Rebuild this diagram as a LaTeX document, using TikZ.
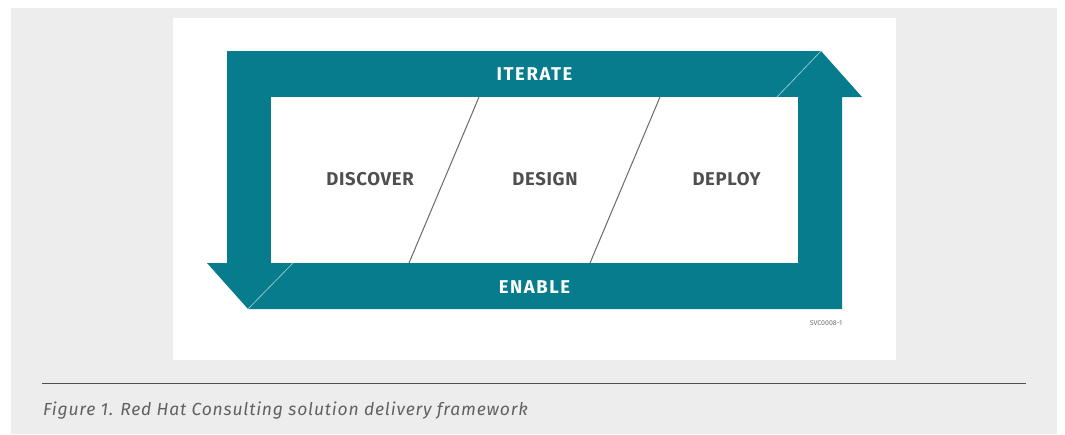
\documentclass[tikz,border=0pt]{standalone}
\usepackage{fontspec}
\setmainfont{Fira Sans}
\definecolor{teal1}{HTML}{067C8C}
\definecolor{panel}{HTML}{EDEDED}
\definecolor{ink}{HTML}{4F4F4F}
\tikzset{
  band/.style={fill=teal1,draw=none},
  seam/.style={draw=white!55!teal1,line width=0.8pt},
  divider/.style={draw=ink!85,line width=1pt},
  phase/.style={text=ink,font=\fontsize{18.5}{20}\selectfont\bfseries\addfontfeature{LetterSpace=3.6},inner sep=0pt,anchor=center},
  bandlabel/.style={text=white,font=\fontsize{18.5}{20}\selectfont\bfseries\addfontfeature{LetterSpace=8.5},inner sep=0pt,anchor=center},
}
\begin{document}
\begin{tikzpicture}[x=1pt,y=-1pt]
\useasboundingbox (0,0) rectangle (1065,434);
\fill[white] (0,0) rectangle (1065,434);
\fill[panel] (11,8) rectangle (1057,434);
\fill[white] (173,18) rectangle (896,360);
% frame with arrows
\fill[band] (227,51) -- (821,51) -- (862,97) -- (842,97) -- (842,309) -- (248,309)
  -- (207,263) -- (227,263) -- cycle;
\fill[white] (271,97) rectangle (798,263);
% seams
\coordinate (s1a) at (777,97); \coordinate (s1b) at (821,51);
\coordinate (s2a) at (293,263); \coordinate (s2b) at (248,309);
\draw[seam] (s1a) -- (s1b);
\draw[seam] (s2a) -- (s2b);
% dividers
\coordinate (d1a) at (479,97); \coordinate (d1b) at (409,263);
\coordinate (d2a) at (660,97); \coordinate (d2b) at (590,263);
\draw[divider] (d1a) -- (d1b);
\draw[divider] (d2a) -- (d2b);
\node[bandlabel] (iterate) at (534.5,74) {ITERATE};
\node[bandlabel] (enable) at (534.5,287) {ENABLE};
\node[phase] (discover) at (370,179.5) {DISCOVER};
\node[phase] (design) at (545,179.5) {DESIGN};
\node[phase] (deploy) at (726.5,179.5) {DEPLOY};
\node[text=ink!80,font=\fontsize{7}{8}\selectfont,inner sep=0pt] (code) at (826,323) {SVC0008-1};
\coordinate (r1) at (42,383); \coordinate (r2) at (1026,383);
\draw[draw=ink,line width=0.9pt] (r1) -- (r2);
\node[text=ink!90,font=\fontsize{17.5}{20}\selectfont\itshape\addfontfeature{LetterSpace=4.6},anchor=west,inner sep=0pt] (cap) at (43,411) {Figure 1. Red Hat Consulting solution delivery framework};
\end{tikzpicture}
\end{document}
